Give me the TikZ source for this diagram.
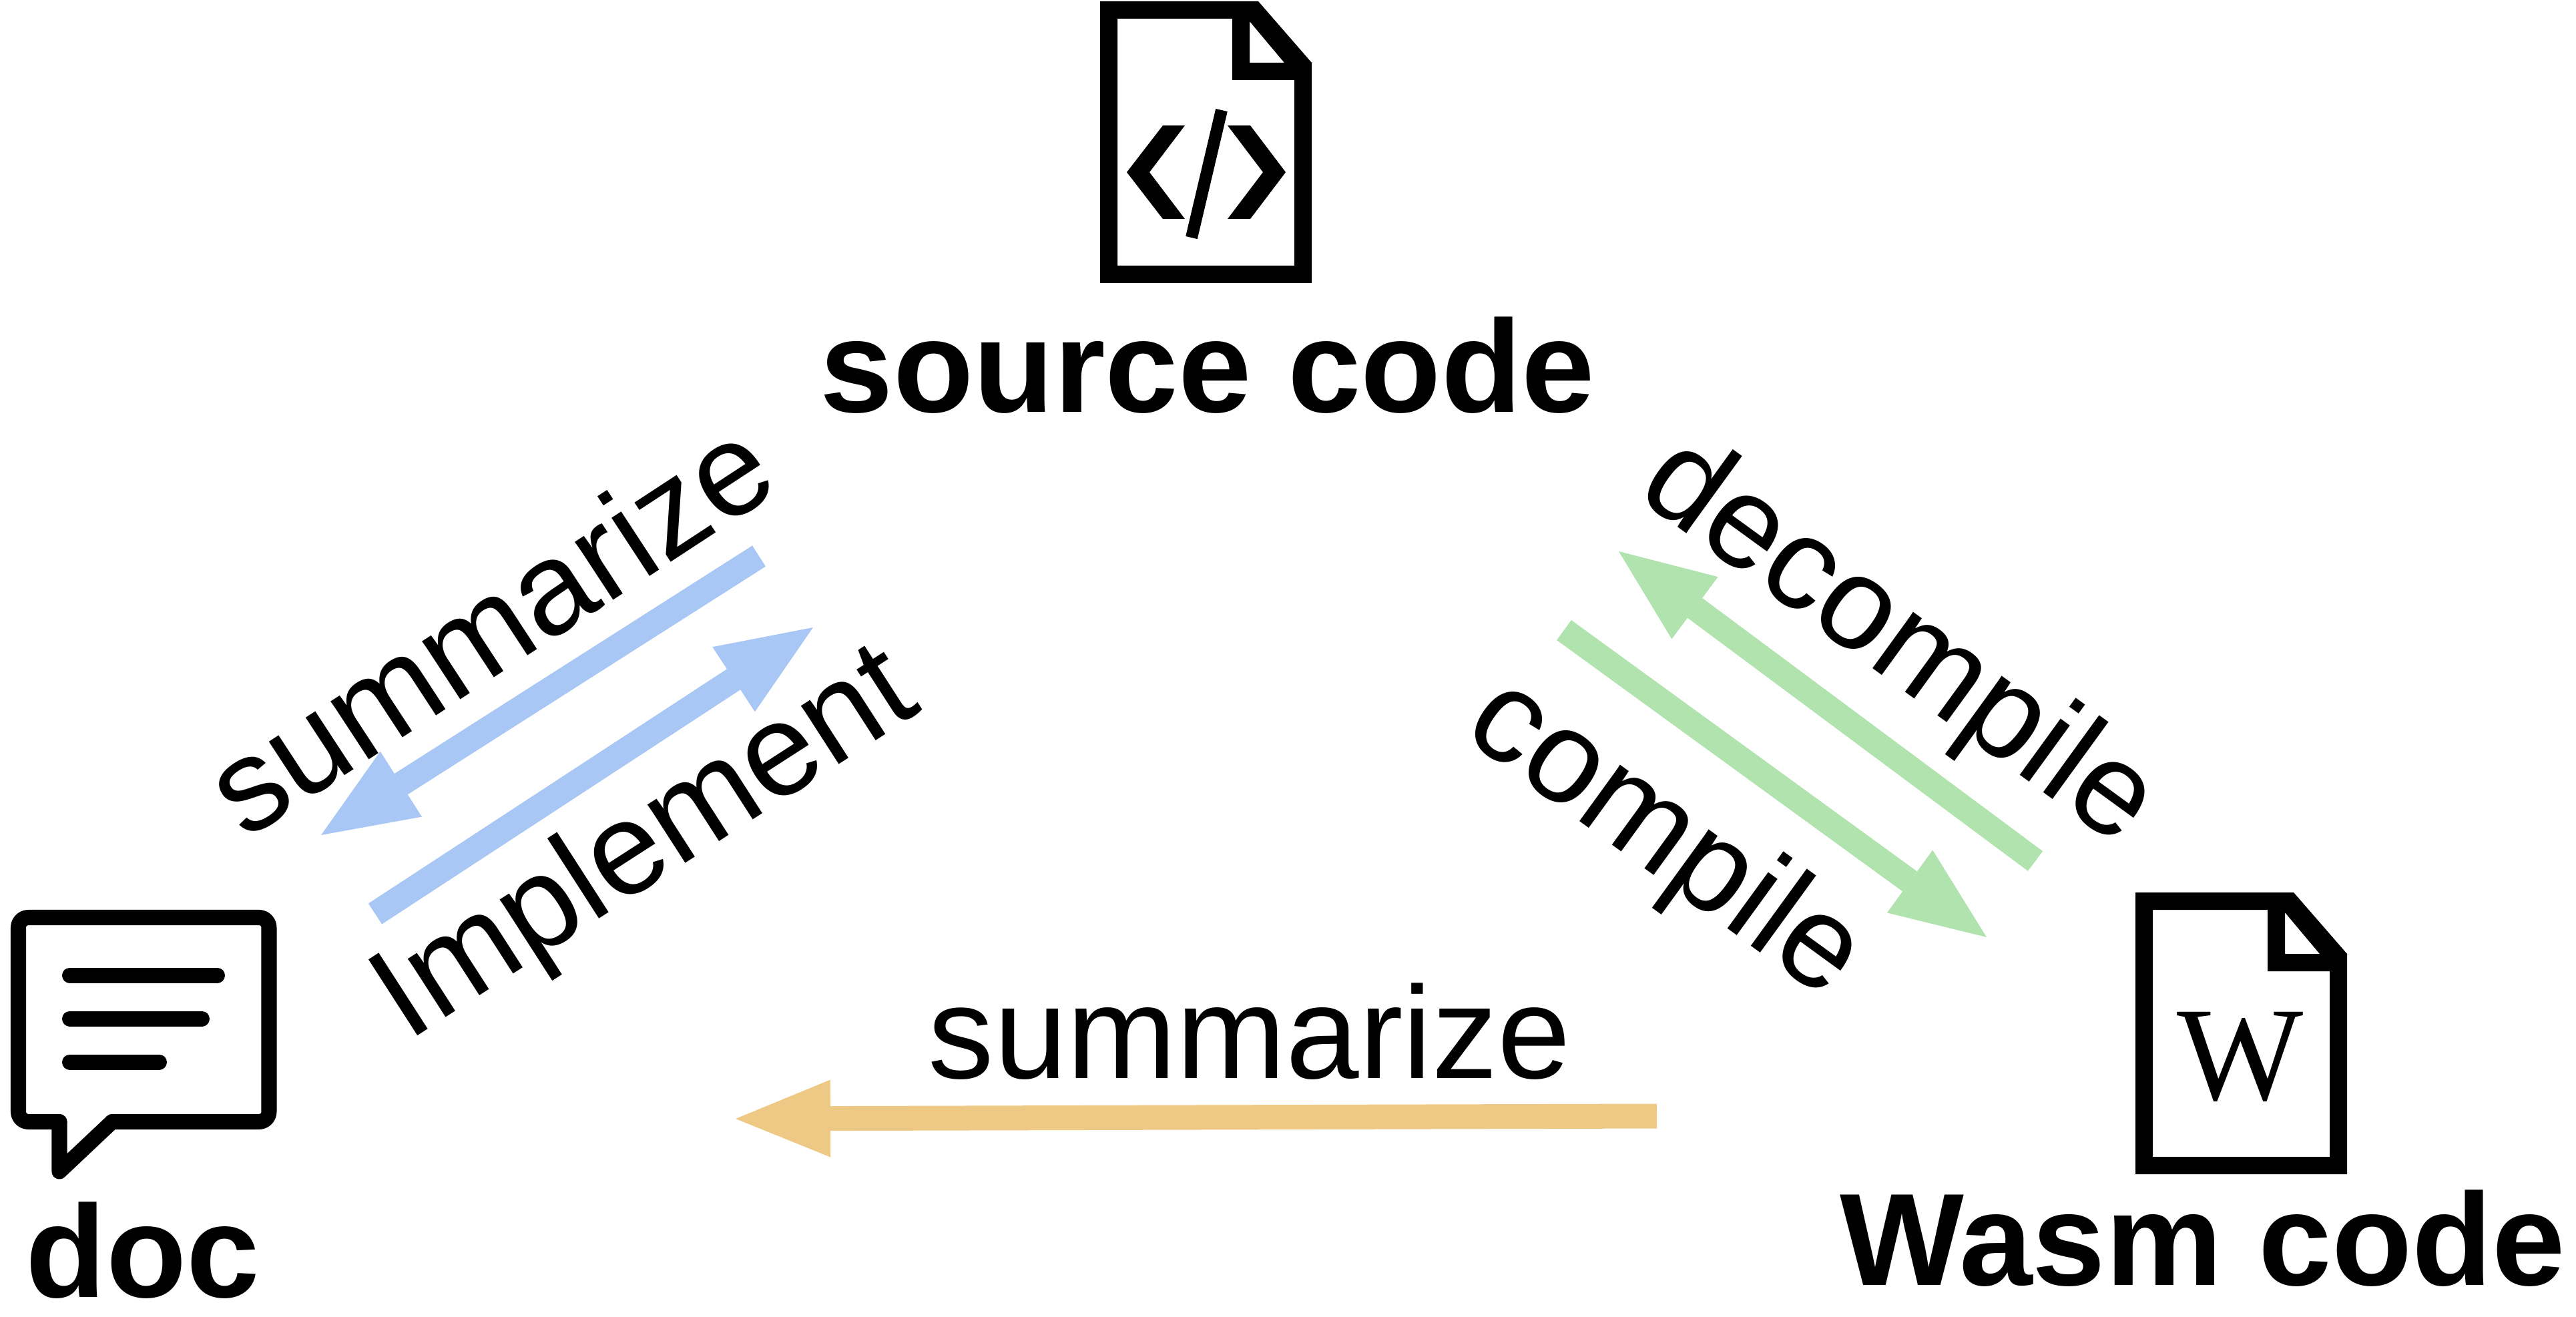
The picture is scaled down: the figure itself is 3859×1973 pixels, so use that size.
\documentclass[tikz,border=0pt]{standalone}
\usepackage{fontspec}
\setmainfont{Liberation Sans}
\newfontfamily\wasmfont{Liberation Serif}
\usetikzlibrary{arrows.meta}
\definecolor{bluearrow}{HTML}{A9C7F5}
\definecolor{greenarrow}{HTML}{B0E3AE}
\definecolor{orangearrow}{HTML}{EEC885}
\tikzset{
  iconlabel/.style={inner sep=0pt, anchor=base, font=\fontsize{56}{60}\selectfont\bfseries},
  arrowlabel/.style={inner sep=0pt, anchor=base, font=\fontsize{56}{60}\selectfont},
  flowarrow/.style={line width=0.37cm, -{Triangle[length=1.42cm,width=1.16cm,line width=0pt]}},
  docline/.style={line width=0.23cm, line cap=round, line join=round},
  pics/fileicon/.style={code={
    \fill[black, even odd rule]
      (0,0) -- (237,0) -- (317,92) -- (317,422) -- (0,422) -- cycle
      (26,26) -- (198,26) -- (198,118) -- (291,118) -- (291,396) -- (26,396) -- cycle
      (224,30) -- (224,92) -- (276,92) -- cycle;
  }}
}
\begin{document}
\begin{tikzpicture}[x=0.01cm, y=-0.01cm]
    \useasboundingbox (0,0) rectangle (3859,1973);

    % source code icon
    \pic at (1648,2) {fileicon};
    \fill (1742,188) -- (1775,188) -- (1722,258) -- (1775,328) -- (1742,328) -- (1688,258) -- cycle;
    \fill (1839,188) -- (1873,188) -- (1926,258) -- (1873,328) -- (1839,328) -- (1892,258) -- cycle;
    \draw[line width=0.18cm] (1830,165) -- (1785,356);
    \node[iconlabel] (source) at (1809,617) {source code};

    % doc icon
    \draw[docline, rounded corners=0.15cm] (89,1680.5) -- (27.5,1680.5) -- (27.5,1374.5) -- (403,1374.5)
      -- (403,1680.5) -- (168,1680.5);
    \draw[docline] (89,1680.5) -- (89,1755) -- (168,1680.5);
    \draw[docline] (104.5,1461) -- (325.5,1461);
    \draw[docline] (104.5,1526) -- (302.5,1526);
    \draw[docline] (104.5,1591) -- (238.5,1591);
    \node[iconlabel] (doc) at (214,1943) {doc};

    % wasm icon
    \pic at (3199,1337) {fileicon};
    \node[inner sep=0pt, font=\fontsize{57}{60}\selectfont\wasmfont] (w) at (3356,1583) {W};
    \node[iconlabel] (wasm) at (3300,1925) {Wasm code};

    \coordinate (sumtail) at (1137,833);
    \coordinate (sumtip) at (481,1251);
    \coordinate (imptail) at (562,1369);
    \coordinate (imptip) at (1218,940);
    \coordinate (dectail) at (3049,1290);
    \coordinate (dectip) at (2425,826);
    \coordinate (comtail) at (2343,944);
    \coordinate (comtip) at (2976,1404);
    \coordinate (wsumtail) at (2482,1672);
    \coordinate (wsumtip) at (1102,1676);

    \draw[flowarrow, bluearrow] (sumtail) -- (sumtip);
    \draw[flowarrow, bluearrow] (imptail) -- (imptip);
    \draw[flowarrow, greenarrow] (dectail) -- (dectip);
    \draw[flowarrow, greenarrow] (comtail) -- (comtip);
    \draw[flowarrow, orangearrow] (wsumtail) -- (wsumtip);

    \node[arrowlabel, rotate=33.2] (sumlabel) at (770,996) {summarize};
    \node[arrowlabel, rotate=32.8] (implabel) at (997,1312) {Implement};
    \node[arrowlabel, rotate=-36] (declabel) at (2812,1006) {decompile};
    \node[arrowlabel, rotate=-36] (comlabel) at (2462,1300) {compile};
    \node[arrowlabel] (wsumlabel) at (1872,1615) {summarize};
\end{tikzpicture}
\end{document}
